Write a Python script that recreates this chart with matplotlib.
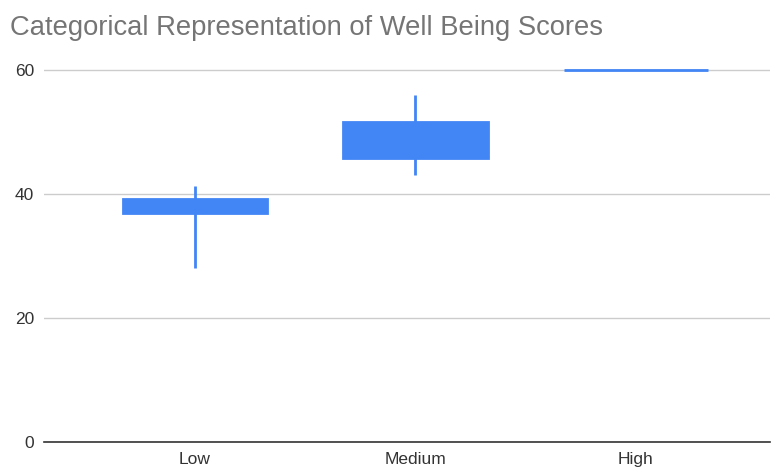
import matplotlib.pyplot as plt

categories = ['Low', 'Medium', 'High']
low = [28.1, 43.1, 60]
box_bottom = [36.9, 45.8, 60]
box_top = [39.2, 51.6, 60]
high = [41.3, 56.0, 60]
yticks = [0, 20, 40, 60]

blue = '#4285F4'
plt.rcParams['font.family'] = ['Liberation Sans', 'DejaVu Sans']

fig = plt.figure(figsize=(7.74, 4.68), dpi=100)
ax = fig.add_axes([44 / 774, 1 - 442 / 468, 726 / 774, 382 / 468])

x = list(range(len(categories)))
ax.vlines(x, low, high, color=blue, linewidth=2, zorder=3)
heights = [t - b for t, b in zip(box_top, box_bottom)]
ax.bar(x, heights, bottom=box_bottom, width=0.655, color=blue,
       edgecolor=blue, linewidth=2, zorder=4)

ax.set_xlim(-0.685, 2.608)
ax.set_ylim(0, 61.6)
ax.set_xticks(x)
ax.set_xticklabels(categories)
ax.set_yticks(yticks)
ax.grid(axis='y', color='#cccccc', linewidth=1)
ax.set_axisbelow(True)
for s in ['top', 'right', 'left']:
    ax.spines[s].set_visible(False)
ax.spines['bottom'].set_color('#333333')
ax.spines['bottom'].set_linewidth(1.2)
ax.tick_params(axis='both', length=0, labelsize=12.5, colors='#333333')
ax.tick_params(axis='y', pad=7)
ax.tick_params(axis='x', pad=7)

fig.text(10 / 774, 1 - 28 / 468, 'Categorical Representation of Well Being Scores',
         fontsize=19.7, color='#757575', va='center', ha='left')

fig.savefig('out.png', dpi=100)
